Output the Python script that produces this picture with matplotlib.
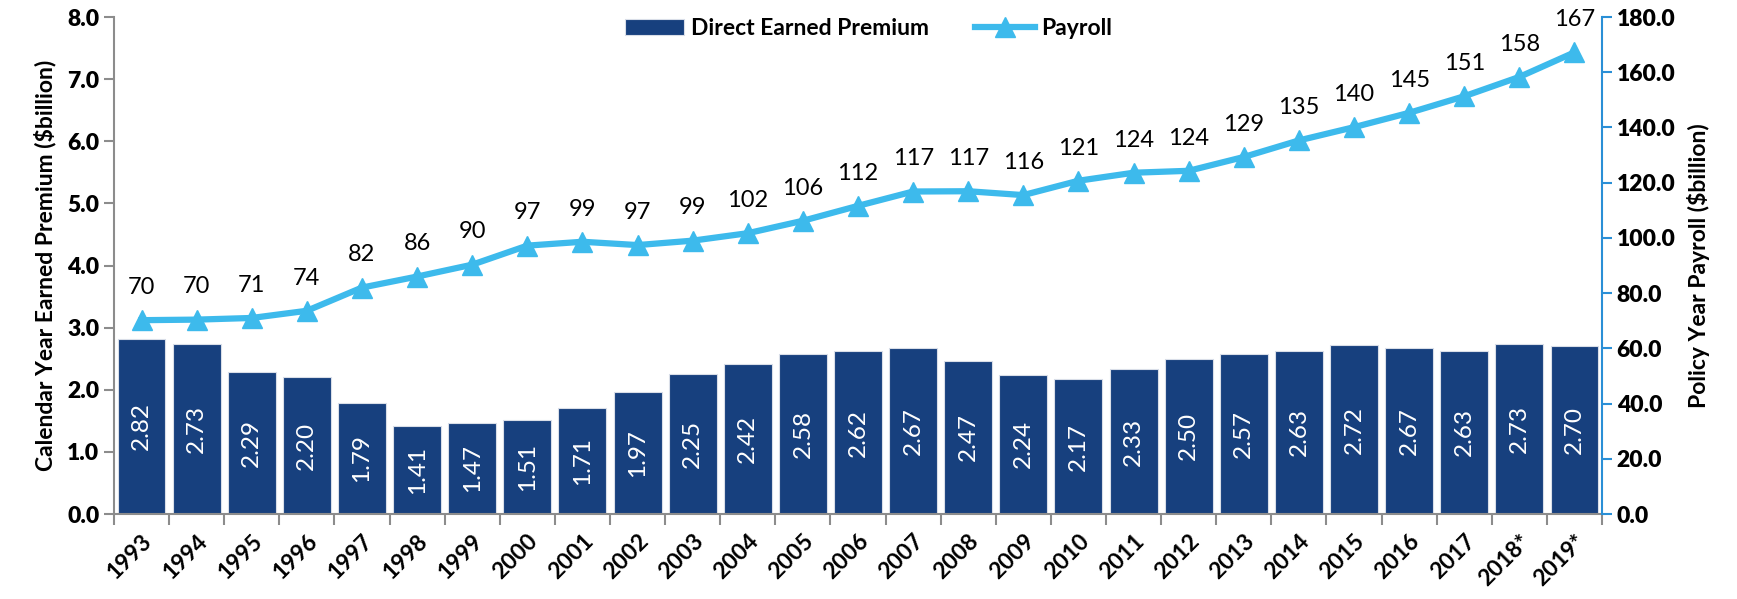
import matplotlib.pyplot as plt
from matplotlib.ticker import FixedLocator, FormatStrFormatter
import numpy as np

plt.rcParams['font.family'] = ['Lato', 'DejaVu Sans']

years = ["1993", "1994", "1995", "1996", "1997", "1998", "1999", "2000", "2001",
         "2002", "2003", "2004", "2005", "2006", "2007", "2008", "2009", "2010",
         "2011", "2012", "2013", "2014", "2015", "2016", "2017", "2018*", "2019*"]
premium = [2.82, 2.73, 2.29, 2.20, 1.79, 1.41, 1.47, 1.51, 1.71, 1.97, 2.25, 2.42,
           2.58, 2.62, 2.67, 2.47, 2.24, 2.17, 2.33, 2.50, 2.57, 2.63, 2.72, 2.67,
           2.63, 2.73, 2.70]
payroll = [70.2, 70.4, 71.0, 73.6, 82.0, 86.0, 90.3, 97.2, 98.6, 97.4, 99.0, 101.7,
           106.2, 111.6, 116.8, 116.9, 115.5, 120.7, 123.6, 124.3, 129.3, 135.3,
           140.1, 145.3, 151.3, 158.3, 167.2]

bar_color = "#17407E"
line_color = "#3DBAEC"
axis_blue = "#2A8FD6"
grey = "#8C8C8C"

fig = plt.figure(figsize=(17.37, 5.99), dpi=100)
ax = fig.add_axes([0.0656, 0.1419, 0.8567, 0.8297])
x = np.arange(len(years))

ax.bar(x, premium, width=0.87, color=bar_color, edgecolor="#D9DEE8",
       linewidth=0.8, label="Direct Earned Premium", zorder=2)
for xi, v in zip(x, premium):
    ax.text(xi, v / 2, f"{v:.2f}", rotation=90, ha="center", va="center",
            color="white", fontsize=17.5)

ax.set_xlim(-0.5, len(years) - 0.5)
ax.set_ylim(0, 8)
ax.set_yticks(np.arange(0, 8.1, 1.0))
ax.yaxis.set_major_formatter(FormatStrFormatter("%.1f"))
ax.set_xticks(x)
ax.set_xticklabels(years, rotation=45, ha="right", rotation_mode="anchor",
                   fontsize=16.5, fontweight="bold")
ax.tick_params(axis="x", length=0, pad=12)
ax.xaxis.set_minor_locator(FixedLocator(np.arange(-0.5, len(years), 1.0)))
ax.tick_params(axis="x", which="minor", length=8, width=1.5, color=grey)
ax.tick_params(axis="y", length=7, width=1.5, color=grey, labelsize=16.5)
for lab in ax.get_yticklabels():
    lab.set_fontweight("heavy")
ax.set_ylabel("Calendar Year Earned Premium ($billion)", fontsize=16.5,
              fontweight="bold", labelpad=8)
for s in ["top", "right"]:
    ax.spines[s].set_visible(False)
ax.spines["left"].set_color(grey)
ax.spines["left"].set_linewidth(1.5)
ax.spines["bottom"].set_color(grey)
ax.spines["bottom"].set_linewidth(1.5)

ax2 = ax.twinx()
ax2.plot(x, payroll, color=line_color, linewidth=4.5, marker="^",
         markersize=15, label="Payroll", zorder=3)
for xi, v in zip(x, payroll):
    ax2.annotate(f"{v:.0f}", (xi, v), xytext=(0, 16), textcoords="offset points",
                 ha="center", va="bottom", fontsize=17)
ax2.set_ylim(0, 180)
ax2.set_yticks(np.arange(0, 181, 20))
ax2.yaxis.set_major_formatter(FormatStrFormatter("%.1f"))
ax2.tick_params(axis="y", length=7, width=1.5, color=axis_blue, labelsize=16.5)
for lab in ax2.get_yticklabels():
    lab.set_fontweight("heavy")
ax2.set_ylabel("Policy Year Payroll ($billion)", fontsize=16.5, fontweight="bold",
               labelpad=8)
for s in ["top", "left", "bottom"]:
    ax2.spines[s].set_visible(False)
ax2.spines["right"].set_color(axis_blue)
ax2.spines["right"].set_linewidth(1.5)

h1, l1 = ax.get_legend_handles_labels()
h2, l2 = ax2.get_legend_handles_labels()
fig.legend(h1 + h2, l1 + l2, loc="center", bbox_to_anchor=(0.50, 0.952),
           ncol=2, frameon=False, handlelength=2.6, columnspacing=2.0,
           handletextpad=0.3, prop={"size": 16.5, "weight": "bold"})

fig.savefig("out.png", dpi=100)
